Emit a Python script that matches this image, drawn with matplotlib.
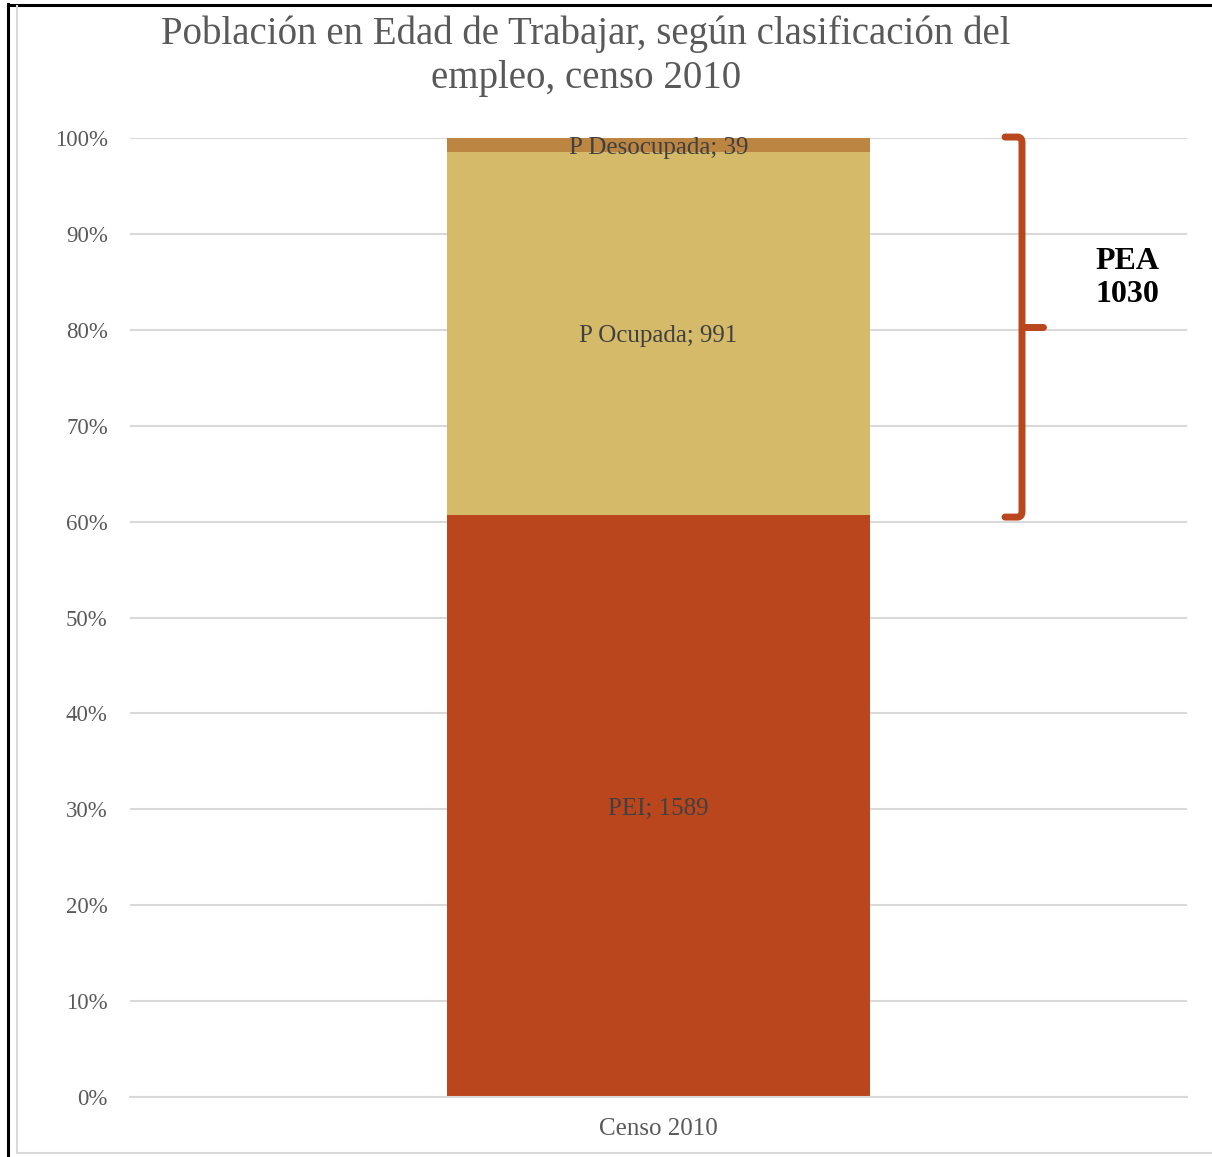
import matplotlib
matplotlib.use("Agg")
import matplotlib.pyplot as plt
from matplotlib.path import Path
from matplotlib.patches import PathPatch
from matplotlib.lines import Line2D
import matplotlib.transforms as mtransforms
import numpy as np

categories = ["Censo 2010"]
series_names = ["PEI", "P Ocupada", "P Desocupada"]
series_values = [1589, 991, 39]
series_colors = ["#BA461E", "#D4BA69", "#BD8542"]
pea_label = "PEA\n1030"
title = "Población en Edad de Trabajar, según clasificación del\nempleo, censo 2010"
ytick_vals = [0, 0.1, 0.2, 0.3, 0.4, 0.5, 0.6, 0.7, 0.8, 0.9, 1.0]
ytick_labels = ["0%", "10%", "20%", "30%", "40%", "50%", "60%", "70%", "80%", "90%", "100%"]

plt.rcParams['font.family'] = ['Liberation Serif', 'DejaVu Serif']

W, H = 1212, 1157
fig = plt.figure(figsize=(W / 100, H / 100), dpi=100)
ax = fig.add_axes([130 / W, 1 - 1097 / H, (1187 - 130) / W, (1097 - 138) / H])

total = sum(series_values)
shares = [v / total for v in series_values]
x = np.arange(len(categories))
bottom = 0.0
for name, val, sh, col in zip(series_names, series_values, shares, series_colors):
    ax.bar(x, sh, bottom=bottom, width=0.4, color=col, zorder=2)
    ycen = bottom + sh / 2
    ax.text(x[0], ycen, f"{name}; {val}", ha="center", va="center_baseline",
            fontsize=18, color="#404040", zorder=3)
    bottom += sh

ax.set_xlim(-0.5, 0.5)
ax.set_ylim(0, 1.0)
ax.set_yticks(ytick_vals)
ax.set_yticklabels(ytick_labels, fontsize=16.5, color="#595959")
ax.set_xticks(x)
ax.set_xticklabels(categories, fontsize=18, color="#595959")
ax.tick_params(axis="y", length=0, pad=16)
ax.tick_params(axis="x", length=0, pad=15)
ax.yaxis.grid(True, color="#D9D9D9", linewidth=1.5, zorder=0)
ax.set_axisbelow(True)
for s in ["top", "right", "left"]:
    ax.spines[s].set_visible(False)
ax.spines["bottom"].set_color("#D9D9D9")
ax.spines["bottom"].set_linewidth(1.5)

# Title
fig.text(586 / W, 1 - 56 / H, title, ha="center", va="center", fontsize=28,
         color="#595959", linespacing=1.25)

# Brace for PEA
pei_share = shares[0]
y_top = 1.001
y_bot = pei_share - 0.002
y_mid = (y_top + y_bot) / 2
trans = mtransforms.blended_transform_factory(ax.transAxes, ax.transData)
xv = (1022 - 130) / 1057
xl = (1005 - 130) / 1057
xt = (1043 - 130) / 1057
rx = 0.004
ry = 0.006
verts = [
    (xl, y_top), (xv - rx, y_top), (xv, y_top), (xv, y_top - ry),
    (xv, y_bot + ry), (xv, y_bot), (xv - rx, y_bot), (xl, y_bot),
]
codes = [Path.MOVETO, Path.LINETO, Path.CURVE3, Path.CURVE3,
         Path.LINETO, Path.CURVE3, Path.CURVE3, Path.LINETO]
ax.add_patch(PathPatch(Path(verts, codes), transform=trans, fill=False,
                       edgecolor="#BA461E", linewidth=5, capstyle="round",
                       joinstyle="round", clip_on=False, zorder=4))
ax.add_line(Line2D([xv, xt], [y_mid, y_mid], transform=trans, color="#BA461E",
                   linewidth=5, solid_capstyle="round", clip_on=False, zorder=4))
ax.text((1127 - 130) / 1057, 0.854, pea_label, transform=trans, ha="center",
        va="center", fontsize=23, fontweight="bold", color="black",
        linespacing=1.15)

# Outer borders
fig.add_artist(Line2D([8 / W, 8 / W], [0, 1 - 4 / H], transform=fig.transFigure,
                      color="black", linewidth=2.2))
fig.add_artist(Line2D([8 / W, 1], [1 - 4.5 / H, 1 - 4.5 / H], transform=fig.transFigure,
                      color="black", linewidth=2.2))
fig.add_artist(Line2D([16.5 / W, 16.5 / W], [1 - 1153 / H, 1 - 6 / H], transform=fig.transFigure,
                      color="#D9D9D9", linewidth=1.5))
fig.add_artist(Line2D([16.5 / W, 1], [1 - 1153 / H, 1 - 1153 / H], transform=fig.transFigure,
                      color="#D9D9D9", linewidth=1.5))

fig.savefig("out.png", dpi=100)
